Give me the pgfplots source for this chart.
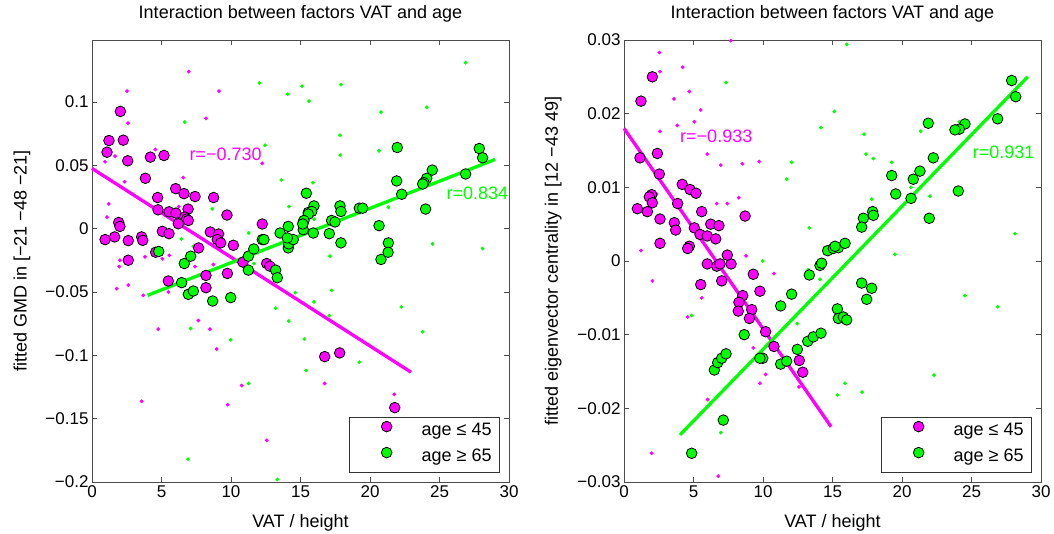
\documentclass[border=0pt]{standalone}
\usepackage{pgfplots}
\pgfplotsset{compat=1.18}
\usepackage{fontspec}
\setmainfont{Liberation Sans}
\definecolor{mag}{rgb}{1,0,1}
\definecolor{grn}{rgb}{0,1,0}
\pgfplotsset{
  myaxis/.style={
    scale only axis, width=417pt, height=442pt,
    xmin=0, xmax=30,
    xtick={0,5,10,15,20,25,30}, xticklabels={0,5,10,15,20,25,30},
    scaled x ticks=false, scaled y ticks=false,
    tick align=inside, major tick length=5pt,
    axis line style={draw=black!70, line width=0.8pt},
    every tick/.style={draw=black!70, line width=0.8pt},
    tick label style={font=\fontsize{17}{20}\selectfont},
    label style={font=\fontsize{18}{22}\selectfont},
    title style={font=\fontsize{18}{22}\selectfont, at={(axis description cs:0.5,1.045)}, anchor=center},
    xlabel style={at={(axis description cs:0.5,-0.093)}, anchor=center},
    legend style={at={(axis description cs:1,0)}, anchor=south east, xshift=-9pt, yshift=9.5pt,
      draw=black!80, line width=0.8pt, inner xsep=0pt, inner ysep=1.5pt, row sep=0pt,
      font=\fontsize{18}{22}\selectfont,
      nodes={inner xsep=0pt, inner ysep=5pt, text height=12pt, text depth=4pt}},
    legend cell align=left,
    clip=false,
  },
  bigm/.style={only marks, mark=*, color=black, mark size=5.3pt, mark options={fill=#1, draw=black, line width=0.8pt},
    legend image code/.code={\path[draw=none,fill=none] (0pt,-6pt) -- (72pt,6pt); \draw[##1] plot coordinates {(37pt,5pt)};}},
  smallm/.style={only marks, mark=*, color=#1, mark size=1.7pt, mark options={fill=#1, draw=none}, forget plot},
  fitl/.style={color=#1, line width=3.3pt, forget plot, no marks},
}
\begin{document}
\begin{tikzpicture}
\useasboundingbox (-92pt,-52pt) rectangle (962pt,482pt);
% ---------------- left panel
\begin{axis}[myaxis, at={(0pt,0pt)}, anchor=south west,
  ymin=-0.2, ymax=0.149,
  ytick={-0.2,-0.15,-0.1,-0.05,0,0.05,0.1},
  yticklabels={−0.2,−0.15,−0.1,−0.05,0,0.05,0.1},
  title={Interaction between factors VAT and age},
  xlabel={VAT / height},
  ylabel={fitted GMD in [−21 −48 −21]},
  ylabel style={at={(axis description cs:-0.168,0.5)}, anchor=center},
]
\addplot[smallm=mag] table {
6.96 0.124
2.52 0.1086
9.14 0.1086
8.20 0.0871
2.59 0.0834
4.56 0.0626
1.65 0.0573
0.94 0.0528
12.25 0.0516
6.57 0.0403
2.35 0.0371
1.20 0.0196
1.08 0.0092
6.24 0.0175
2.01 -0.0249
1.96 -0.0300
2.61 -0.0445
1.78 -0.0473
3.69 -0.0526
3.81 -0.0222
5.06 -0.0238
5.56 -0.0210
4.77 -0.0793
5.49 -0.0500
7.41 -0.0300
8.73 -0.0283
7.65 -0.0725
8.49 -0.0793
8.97 -0.0950
3.57 -0.1363
9.76 -0.1390
10.77 -0.1238
12.57 -0.1672
16.74 -0.1222
21.75 -0.1308
};
\addplot[smallm=grn] table {
12.04 0.1151
14.08 0.1062
15.11 0.1125
15.61 0.1007
6.67 0.0842
12.45 0.0659
13.62 0.0385
14.17 0.0175
8.65 0.0157
11.27 -0.0034
6.43 -0.0081
26.88 0.131
17.91 0.1138
20.79 0.0921
24.08 0.0958
17.84 0.0738
17.86 0.0580
20.65 0.0615
15.90 0.0364
15.97 0.0076
21.32 0.0170
24.50 -0.0120
28.10 -0.0157
7.10 -0.0788
9.98 -0.0877
11.27 -0.1222
6.91 -0.1820
13.21 -0.0628
14.15 -0.0730
14.63 -0.0505
15.27 -0.0871
15.40 -0.1120
13.33 -0.1980
7.29 -0.0139
11.65 -0.0275
17.12 -0.0217
17.24 -0.0487
15.97 -0.0578
17.07 -0.0687
19.23 -0.1054
22.25 -0.0618
23.79 -0.0814
};
\addplot[bigm=mag] table {
2.04 0.0926
1.22 0.0696
2.25 0.0699
1.08 0.0604
2.57 0.0536
4.20 0.0565
5.18 0.0578
3.84 0.0398
6.02 0.0316
6.62 0.0277
7.41 0.0254
8.75 0.0246
4.72 0.0246
4.75 0.0149
5.54 0.0133
6.04 0.0123
6.91 0.0155
6.67 0.0092
6.81 0.0076
6.93 0.0065
6.21 0.0039
9.71 0.0108
1.92 0.0049
2.01 0.0018
0.94 -0.0086
1.63 -0.0065
2.61 -0.0094
3.57 -0.0065
3.65 -0.0092
5.06 -0.0021
5.54 -0.0039
7.67 -0.0152
8.51 -0.0026
9.11 -0.0042
9.01 -0.0086
9.26 -0.0112
10.17 -0.0131
12.25 0.0037
2.61 -0.0249
4.58 -0.0186
5.49 -0.0413
8.20 -0.0369
8.20 -0.0466
9.74 -0.0353
10.86 -0.0264
12.57 -0.0275
12.80 -0.0296
16.74 -0.1010
17.82 -0.0981
21.78 -0.1413
};
\addlegendentry{age ≤ 45\kern8pt}
\addplot[bigm=grn] table {
4.80 -0.0180
6.64 -0.0275
7.10 -0.0217
6.45 -0.0426
6.93 -0.0518
7.29 -0.0492
8.68 -0.0571
9.98 -0.0544
11.25 -0.0217
11.64 -0.0160
12.25 -0.0086
12.37 -0.0086
11.25 -0.0327
13.21 -0.0327
13.33 -0.0387
14.12 -0.0152
14.15 -0.0120
14.48 -0.0086
13.53 -0.0034
14.05 -0.0073
14.12 0.0018
15.20 0.0053
15.20 -0.0008
15.56 0.0128
15.42 0.0280
15.97 0.0180
15.81 0.0136
15.56 0.0115
15.25 0.0065
15.16 0.0037
17.84 0.0180
17.91 0.0136
19.23 0.0162
19.47 0.0162
17.24 0.0065
17.48 0.0053
17.07 -0.0039
17.91 -0.0112
15.92 -0.0034
21.96 0.0641
27.86 0.0633
28.10 0.0560
24.48 0.0463
24.08 0.0398
23.88 0.0363
23.79 0.0353
26.88 0.0432
21.92 0.0377
22.28 0.0272
24.00 0.0155
20.65 0.0024
21.32 -0.0112
20.79 -0.0243
21.30 -0.0186
};
\addlegendentry{age ≥ 65\kern8pt}
\addplot[fitl=mag] coordinates {(0,0.0476) (22.95,-0.1133)};
\addplot[fitl=grn] coordinates {(4.0,-0.0526) (29.0,0.0547)};
\node[anchor=west, text=mag, font=\fontsize{18}{22}\selectfont, inner sep=0pt] at (axis cs:7.0,0.0586) {r=−0.730};
\node[anchor=west, text=grn, font=\fontsize{18}{22}\selectfont, inner sep=0pt] at (axis cs:25.5,0.028) {r=0.834};
\end{axis}
% ---------------- right panel
\begin{axis}[myaxis, at={(532pt,0pt)}, anchor=south west,
  ymin=-0.03, ymax=0.03,
  ytick={-0.03,-0.02,-0.01,0,0.01,0.02,0.03},
  yticklabels={−0.03,−0.02,−0.01,0,0.01,0.02,0.03},
  title={Interaction between factors VAT and age},
  xlabel={VAT / height},
  ylabel={fitted eigenvector centrality in [12 −43 49]},
  ylabel style={at={(axis description cs:-0.170,0.5)}, anchor=center},
]
\addplot[smallm=mag] table {
7.68 0.0299
2.54 0.0283
4.22 0.0263
2.59 0.0257
4.70 0.0230
3.60 0.0220
5.52 0.0205
5.06 0.0189
3.83 0.0184
2.59 0.0176
5.99 0.0145
6.96 0.0130
8.51 0.0132
9.73 0.0135
6.67 0.0078
7.43 0.0078
8.25 0.0086
2.35 0.0091
1.22 0.0014
2.04 -0.0027
5.59 -0.0050
4.58 -0.0076
8.78 0.0007
10.79 -0.0017
9.30 -0.0118
10.19 -0.0154
9.78 -0.0166
12.59 -0.0171
6.02 -0.0188
1.99 -0.0261
6.78 -0.0292
7.03 -0.0212
};
\addplot[smallm=grn] table {
7.34 0.0242
15.13 0.0203
14.17 0.0181
12.06 0.0134
11.70 0.0111
13.33 0.0045
16.02 0.0294
17.27 0.0172
17.41 0.0145
17.94 0.0139
19.26 0.0134
21.34 0.0176
24.12 0.0189
20.65 0.0100
22.01 0.0088
17.82 0.0084
28.13 0.0037
4.87 -0.0074
9.98 0.0000
13.26 -0.0012
14.10 -0.0025
12.47 -0.0085
15.35 -0.0182
6.96 -0.0233
19.50 0.0009
24.53 -0.0047
26.88 -0.0062
22.30 -0.0155
15.90 -0.0166
17.12 -0.0178
};
\addplot[bigm=mag] table {
2.04 0.0250
1.22 0.0217
1.15 0.0140
2.40 0.0146
2.54 0.0118
4.19 0.0104
4.75 0.0097
5.18 0.0092
1.99 0.0090
1.82 0.0087
2.04 0.0079
0.96 0.0071
1.68 0.0067
3.86 0.0078
5.59 0.0067
8.71 0.0061
2.59 0.0057
3.62 0.0052
3.72 0.0042
5.06 0.0045
6.24 0.0050
6.83 0.0048
5.47 0.0036
5.99 0.0034
6.60 0.0030
2.59 0.0024
4.70 0.0020
4.58 0.0017
5.99 -0.0004
6.67 -0.0007
6.91 -0.0004
7.70 -0.0004
7.43 0.0008
5.52 -0.0032
7.03 -0.0027
9.30 -0.0018
9.78 -0.0041
8.54 -0.0047
8.27 -0.0056
8.22 -0.0068
9.19 -0.0066
9.02 -0.0078
10.19 -0.0096
10.79 -0.0116
12.61 -0.0135
12.86 -0.0151
};
\addlegendentry{age ≤ 45\kern8pt}
\addplot[bigm=grn] table {
4.87 -0.0261
7.14 -0.0216
6.50 -0.0148
6.74 -0.0138
7.03 -0.0132
7.34 -0.0126
8.65 -0.0100
9.98 -0.0132
9.78 -0.0132
11.27 -0.0061
12.06 -0.0045
11.27 -0.0140
11.70 -0.0136
12.47 -0.0120
13.22 -0.0109
13.62 -0.0103
14.17 -0.0098
13.33 -0.0019
14.10 -0.0006
14.22 -0.0003
14.65 0.0014
15.06 0.0017
15.42 0.0018
15.35 -0.0065
15.42 -0.0078
15.90 0.0024
17.10 -0.0030
17.82 -0.0037
17.46 -0.0052
15.78 -0.0076
16.02 -0.0080
27.89 0.0245
28.18 0.0223
26.88 0.0193
24.53 0.0186
24.12 0.0179
23.81 0.0178
21.89 0.0187
22.25 0.0140
21.29 0.0122
20.81 0.0111
19.26 0.0116
19.55 0.0091
20.65 0.0085
24.05 0.0095
21.96 0.0058
17.89 0.0067
17.94 0.0062
17.22 0.0058
17.10 0.0046
15.18 0.0020
};
\addlegendentry{age ≥ 65\kern8pt}
\addplot[fitl=mag] coordinates {(0,0.0180) (14.9,-0.0225)};
\addplot[fitl=grn] coordinates {(4.03,-0.0236) (29.04,0.0250)};
\node[anchor=west, text=mag, font=\fontsize{18}{22}\selectfont, inner sep=0pt] at (axis cs:4.03,0.0169) {r=−0.933};
\node[anchor=west, text=grn, font=\fontsize{18}{22}\selectfont, inner sep=0pt] at (axis cs:25.09,0.0148) {r=0.931};
\end{axis}
\end{tikzpicture}
\end{document}
